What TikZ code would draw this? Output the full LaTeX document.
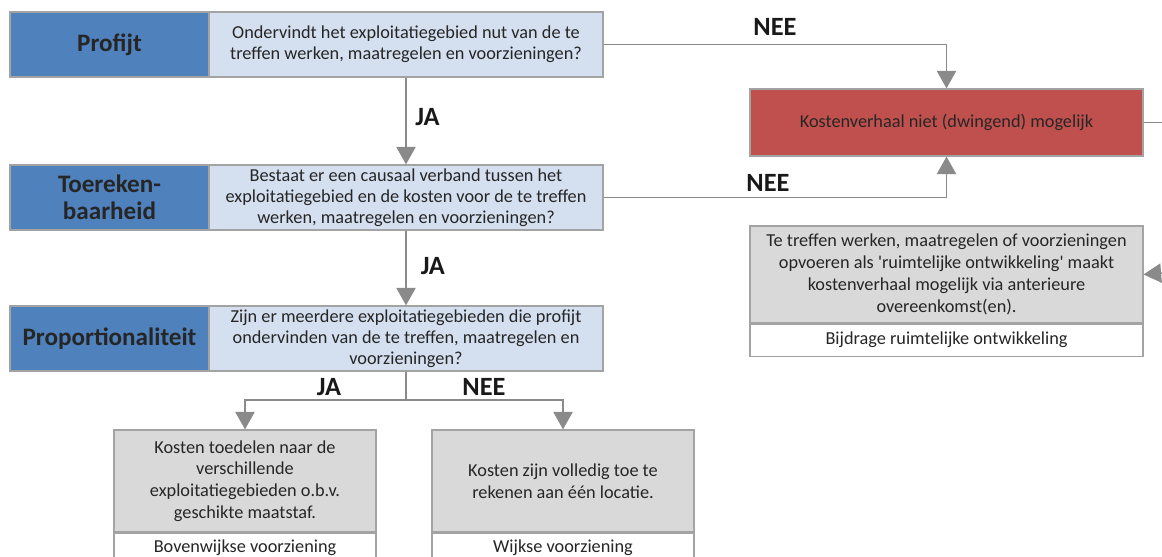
\documentclass[tikz,border=0pt]{standalone}
\usepackage{fontspec}
\setmainfont{Carlito}
\usetikzlibrary{arrows.meta}

\definecolor{hdblue}{HTML}{4F81BD}
\definecolor{qblue}{HTML}{D4DFEF}
\definecolor{nored}{HTML}{C0504D}
\definecolor{boxgrey}{HTML}{D9D9D9}
\definecolor{boxline}{HTML}{A3A3A3}
\definecolor{arrgrey}{HTML}{8A8A8A}
\definecolor{txtdark}{HTML}{262626}

\begin{document}
\begin{tikzpicture}[x=0.02cm, y=-0.02cm]
      \tikzstyle{hnode} = [draw=boxline, line width=0.7pt, fill=hdblue, minimum width=3.98cm, minimum height=1.3cm, inner sep=0pt, align=center, text=txtdark, font=\fontsize{14.3}{15.5}\selectfont\bfseries]
      \tikzstyle{qnode} = [draw=boxline, line width=0.7pt, fill=qblue, minimum width=7.88cm, minimum height=1.3cm, inner sep=0pt, align=center, text=txtdark, font=\fontsize{10.4}{11.8}\selectfont]
      \tikzstyle{gnode} = [draw=boxline, line width=0.7pt, fill=boxgrey, inner sep=0pt, align=center, text=txtdark, font=\fontsize{10.4}{12.4}\selectfont]
      \tikzstyle{wnode} = [draw=boxline, line width=0.7pt, fill=white, inner sep=0pt, align=center, text=txtdark, font=\fontsize{10.4}{12}\selectfont]
      \tikzstyle{arr} = [draw=arrgrey, line width=0.8pt, -{Triangle[width=11pt, length=10pt]}, color=arrgrey]
      \tikzstyle{lbl} = [text=black!90, font=\fontsize{15}{17}\selectfont\bfseries, inner sep=0pt]

      \clip (0,0) rectangle (1162,557);

      % left column
      \node[hnode] (h1) at (109.5,44.5) {Profijt};
      \node[qnode] (q1) at (406,44.5) {Ondervindt het exploitatiegebied nut van de te\\treffen werken, maatregelen en voorzieningen?};
      \node[hnode] (h2) at (109.5,197.5) {Toereken-\\baarheid};
      \node[qnode] (q2) at (406,197.5) {Bestaat er een causaal verband tussen het\\exploitatiegebied en de kosten voor de te treffen\\werken, maatregelen en voorzieningen?};
      \node[hnode] (h3) at (109.5,338.5) {Proportionaliteit};
      \node[qnode] (q3) at (406,338.5) {Zijn er meerdere exploitatiegebieden die profijt\\ondervinden van de te treffen, maatregelen en\\voorzieningen?};

      % bottom boxes
      \node[gnode, minimum width=5.24cm, minimum height=2.04cm] (b1) at (245,481) {Kosten toedelen naar de\\verschillende\\exploitatiegebieden o.b.v.\\geschikte maatstaf.};
      \node[wnode, minimum width=5.24cm, minimum height=0.6cm, anchor=north] (b1w) at (b1.south) {Bovenwijkse voorziening};
      \node[gnode, minimum width=5.24cm, minimum height=2.04cm] (b2) at (563,481) {Kosten zijn volledig toe te\\rekenen aan één locatie.};
      \node[wnode, minimum width=5.24cm, minimum height=0.6cm, anchor=north] (b2w) at (b2.south) {Wijkse voorziening};

      % right column
      \node[qnode, fill=nored, minimum width=7.86cm, minimum height=1.34cm] (red) at (946.5,122.5) {Kostenverhaal niet (dwingend) mogelijk};
      \node[gnode, minimum width=7.86cm, minimum height=1.94cm] (g1) at (946.5,274.5) {Te treffen werken, maatregelen of voorzieningen\\opvoeren als \textquotesingle ruimtelijke ontwikkeling\textquotesingle{} maakt\\kostenverhaal mogelijk via anterieure\\overeenkomst(en).};
      \node[wnode, minimum width=7.86cm, minimum height=0.64cm, anchor=north] (g1w) at (g1.south) {Bijdrage ruimtelijke ontwikkeling};

      \coordinate (split) at (406,400);
      \coordinate (redout) at (1170,122.5);
      \coordinate (gin) at (1175,272);

      \draw[arr] (q1) to node[lbl, right=5pt, yshift=2pt] {JA} (q2);
      \draw[arr] (q2) to node[lbl, right=8pt, yshift=1pt] {JA} (q3);
      \draw[arr] (q1.east) -| (red.north);
      \draw[arr] (q2.east) -| (red.south);
      \node[lbl] (nee1) at (775,27) {NEE};
      \node[lbl] (nee2) at (768,183) {NEE};

      \draw[draw=arrgrey, line width=0.8pt] (q3.south) -- (split);
      \draw[arr] (split) -| (b1.north);
      \draw[arr] (split) -| (b2.north);
      \node[lbl] (ja3) at (329,387) {JA};
      \node[lbl] (nee3) at (484,387) {NEE};

      \draw[draw=arrgrey, line width=0.8pt] (red.east) -- (redout);
      \draw[arr] (gin) -- (g1.east);
\end{tikzpicture}
\end{document}
